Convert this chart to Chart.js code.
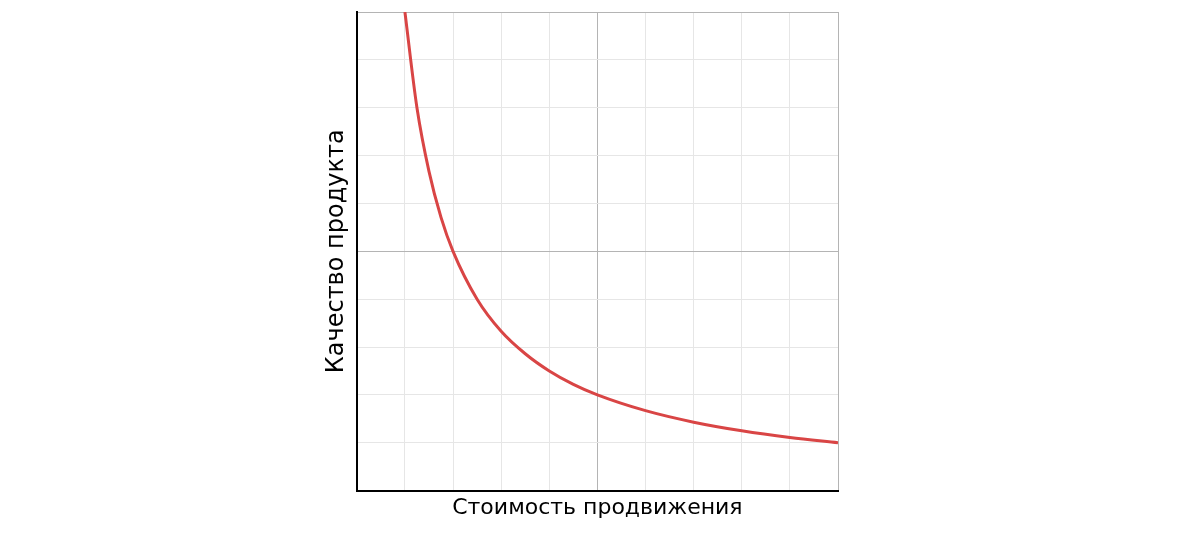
<!DOCTYPE html>
<html>
<head>
<meta charset="utf-8">
<script src="https://cdn.jsdelivr.net/npm/chart.js@4/dist/chart.umd.min.js"></script>
<style>
    html, body { margin: 0; padding: 0; background: #fff; }
    #wrap { width: 1200px; height: 548px; }
</style>
</head>
<body>
<div id="wrap"><canvas id="chart"></canvas></div>
<script>
// values
const costValues = [1, 1.25, 1.5, 1.75, 2, 2.5, 3, 3.5, 4, 4.5, 5, 6, 7, 8, 9, 10];
const qualityValues = [10, 8, 6.67, 5.71, 5, 4, 3.33, 2.86, 2.5, 2.22, 2, 1.67, 1.43, 1.25, 1.11, 1];
const xTitle = "Стоимость продвижения";
const yTitle = "Качество продукта";

var points = costValues.map(function (x, i) {
    return { x: x, y: qualityValues[i] };
});

function gridColor(ctx) {
    return ctx.tick && ctx.tick.value % 5 == 0 ? "#b4b4b4" : "#e6e6e6";
}

new Chart(document.getElementById("chart"), {
    type: "line",
    data: {
        datasets: [
            {
                data: points,
                borderColor: "#d94545",
                borderWidth: 3,
                pointRadius: 0,
                cubicInterpolationMode: "monotone"
            }
        ]
    },
    options: {
        responsive: true,
        maintainAspectRatio: false,
        animation: false,
        layout: { padding: { left: 322, right: 362, top: 12, bottom: 27 } },
        scales: {
            x: {
                type: "linear",
                min: 0,
                max: 10,
                ticks: { display: false, stepSize: 1 },
                grid: { color: gridColor, tickLength: 0 },
                border: { color: "#000", width: 2 },
                title: {
                    display: true,
                    text: xTitle,
                    color: "#000",
                    font: { family: "DejaVu Sans", size: 22 },
                    padding: { top: 4, bottom: 0 }
                }
            },
            y: {
                min: 0,
                max: 10,
                ticks: { display: false, stepSize: 1 },
                grid: { color: gridColor, tickLength: 0 },
                border: { color: "#000", width: 2 },
                title: {
                    display: true,
                    text: yTitle,
                    color: "#000",
                    font: { family: "DejaVu Sans", size: 24 },
                    padding: { top: 0, bottom: 6 }
                }
            }
        },
        plugins: {
            legend: { display: false },
            tooltip: { enabled: false }
        }
    }
});
</script>
</body>
</html>
